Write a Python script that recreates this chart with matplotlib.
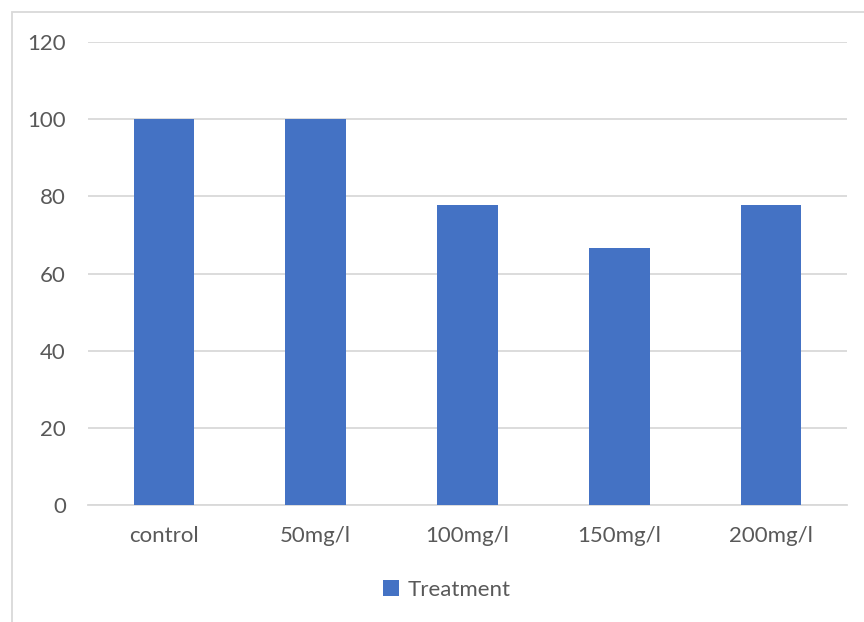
import matplotlib.pyplot as plt
from matplotlib.patches import Rectangle

# Survival (%) per treatment concentration
categories = ["control", "50mg/l", "100mg/l", "150mg/l", "200mg/l"]
treatment = [100, 100, 77.8, 66.7, 77.8]

W, H = 864, 622
fig = plt.figure(figsize=(W / 100, H / 100), dpi=100)
plt.rcParams["font.family"] = ["Lato", "DejaVu Sans"]

# chart-area border (clipped by the image edges on right and bottom)
fig.patches.append(Rectangle((12 / W, -0.05), 1.0, 1 - 12 / H + 0.05,
                             transform=fig.transFigure, fill=False,
                             edgecolor="#d9d9d9", linewidth=1.3))

ax = fig.add_axes([88 / W, 1 - 505 / H, (847 - 88) / W, (505 - 42) / H])
x = range(len(categories))
ax.bar(x, treatment, width=0.4, color="#4472c4", label="Treatment", zorder=3)

ax.set_ylim(0, 120)
ax.set_xlim(-0.5, len(categories) - 0.5)
ax.set_yticks(range(0, 121, 20))
ax.set_xticks(list(x))
ax.set_xticklabels(categories)
ax.yaxis.grid(True, color="#d9d9d9", linewidth=1.3, zorder=0)
for s in ["top", "right", "left"]:
    ax.spines[s].set_visible(False)
ax.spines["bottom"].set_color("#d9d9d9")
ax.spines["bottom"].set_linewidth(1.3)
ax.tick_params(axis="both", length=0, labelsize=16, labelcolor="#595959")
ax.tick_params(axis="x", pad=15)
ax.tick_params(axis="y", pad=16)

fig.legend(loc="center", bbox_to_anchor=(447 / W, 1 - 590 / H), frameon=False,
           fontsize=16, labelcolor="#595959", handlelength=0.7, handleheight=0.7,
           handletextpad=0.4)

fig.savefig("out.png", dpi=100)
